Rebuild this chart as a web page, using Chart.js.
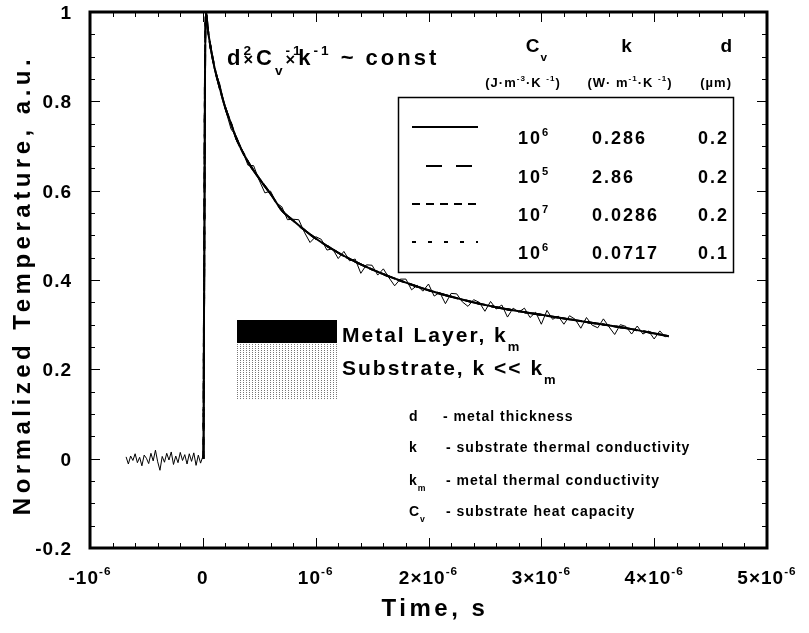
<!DOCTYPE html>
<html>
<head>
<meta charset="utf-8">
<script src="https://cdn.jsdelivr.net/npm/chart.js"></script>
<style>
  body { margin: 0; background: #fff; }
  canvas { display: block; }
</style>
</head>
<body>
<canvas id="tempChart" width="809" height="633"></canvas>
<script>
// Time in microseconds, temperature normalized to the peak
const expTime = [
  -0.68, -0.66, -0.64, -0.62, -0.60, -0.58, -0.56, -0.54, -0.52, -0.50,
  -0.48, -0.46, -0.44, -0.42, -0.40, -0.38, -0.36, -0.34, -0.32, -0.30,
  -0.28, -0.26, -0.24, -0.22, -0.20, -0.18, -0.16, -0.14, -0.12, -0.10,
  -0.08, -0.06, -0.04, -0.02, 0.00, 0.01, 0.025,
  0.05, 0.10, 0.15, 0.20, 0.25, 0.30, 0.35, 0.40, 0.45, 0.50,
  0.55, 0.60, 0.65, 0.70, 0.75, 0.80, 0.85, 0.90, 0.95, 1.00,
  1.05, 1.10, 1.15, 1.20, 1.25, 1.30, 1.35, 1.40, 1.45, 1.50,
  1.55, 1.60, 1.65, 1.70, 1.75, 1.80, 1.85, 1.90, 1.95, 2.00,
  2.05, 2.10, 2.15, 2.20, 2.25, 2.30, 2.35, 2.40, 2.45, 2.50,
  2.55, 2.60, 2.65, 2.70, 2.75, 2.80, 2.85, 2.90, 2.95, 3.00,
  3.05, 3.10, 3.15, 3.20, 3.25, 3.30, 3.35, 3.40, 3.45, 3.50,
  3.55, 3.60, 3.65, 3.70, 3.75, 3.80, 3.85, 3.90, 3.95, 4.00,
  4.05, 4.10
];
const expTemp = [
  0.004, -0.012, 0.006, -0.004, 0.011, -0.009, 0.003, -0.016, 0.008, 0.001,
  -0.011, 0.012, -0.005, 0.019, -0.007, -0.026, 0.005, -0.008, 0.012, -0.003,
  0.015, -0.013, 0.006, -0.009, 0.014, -0.004, 0.009, -0.012, 0.011, -0.006,
  0.013, -0.015, 0.008, -0.010, 0.005, 0.000, 1.000,
  0.954, 0.874, 0.839, 0.782, 0.738, 0.720, 0.690, 0.657, 0.656, 0.623,
  0.595, 0.599, 0.573, 0.564, 0.535, 0.536, 0.535, 0.507, 0.484, 0.497,
  0.491, 0.467, 0.470, 0.448, 0.464, 0.443, 0.447, 0.415, 0.434, 0.433,
  0.411, 0.425, 0.405, 0.387, 0.402, 0.402, 0.378, 0.388, 0.375, 0.391,
  0.364, 0.372, 0.347, 0.370, 0.369, 0.351, 0.341, 0.356, 0.350, 0.330,
  0.352, 0.335, 0.344, 0.317, 0.337, 0.328, 0.337, 0.316, 0.328, 0.301,
  0.332, 0.312, 0.319, 0.301, 0.320, 0.312, 0.292, 0.316, 0.299, 0.293,
  0.313, 0.295, 0.278, 0.300, 0.296, 0.279, 0.297, 0.279, 0.286, 0.268,
  0.286, 0.272
];

const modelTime = [0.005, 0.025, 0.05, 0.1, 0.15, 0.2, 0.25, 0.3, 0.4, 0.5, 0.6, 0.7, 0.8, 0.9, 1.0,
  1.2, 1.4, 1.6, 1.8, 2.0, 2.3, 2.6, 3.0, 3.4, 3.8, 4.13];
const modelTemp = [0.0, 1.0, 0.95, 0.88, 0.83, 0.785, 0.75, 0.715, 0.665, 0.627, 0.593, 0.556, 0.533, 0.512, 0.493,
  0.461, 0.435, 0.413, 0.394, 0.377, 0.356, 0.339, 0.322, 0.306, 0.29, 0.274];

const xTickValues = [-1, 0, 1, 2, 3, 4, 5];
const xTickLabels = ['-10|-6', '0', '10|-6', '2×10|-6', '3×10|-6', '4×10|-6', '5×10|-6'];
const yTickValues = [-0.2, 0, 0.2, 0.4, 0.6, 0.8, 1];
const yTickLabels = ['-0.2', '0', '0.2', '0.4', '0.6', '0.8', '1'];

// legend table: Cv exponent, k, d
const legendCv = ['6', '5', '7', '6'];
const legendK = ['0.286', '2.86', '0.0286', '0.0717'];
const legendD = ['0.2', '0.2', '0.2', '0.1'];
const lineDashes = [[], [16, 14], [8, 6], [4, 12]];

const FONT = '"Liberation Sans", Arial, sans-serif';

function pts(xs, ys) {
  return xs.map((t, i) => ({ x: t, y: ys[i] }));
}

// segs: [text, kind]  n normal, p sup, P sup (no advance), b sub, B sub (no advance), x small cross
function drawRich(ctx, segs, x, y, size, align, spacing) {
  const parts = segs.map(([t, k]) => {
    let fs = size, dy = 0, adv = true;
    if (k === 'p' || k === 'P') { fs = size * 0.62; dy = -size * 0.45; adv = k === 'p'; }
    if (k === 'b' || k === 'B') { fs = size * 0.62; dy = size * 0.45; adv = k === 'b'; }
    if (k === 'x') { fs = size * 0.75; dy = -size * 0.02; }
    return { t, fs, dy, adv };
  });
  ctx.letterSpacing = spacing + 'px';
  let w = 0;
  for (const p of parts) {
    ctx.font = `bold ${p.fs}px ${FONT}`;
    p.w = ctx.measureText(p.t).width;
    if (p.adv) w += p.w;
  }
  let cx = align === 'center' ? x - w / 2 : align === 'right' ? x - w : x;
  ctx.textAlign = 'left';
  ctx.textBaseline = 'alphabetic';
  for (const p of parts) {
    ctx.font = `bold ${p.fs}px ${FONT}`;
    ctx.fillText(p.t, cx, y + p.dy);
    if (p.adv) cx += p.w;
  }
  ctx.letterSpacing = '0px';
}

function stipple(ctx) {
  const c = document.createElement('canvas');
  c.width = 3; c.height = 2;
  const g = c.getContext('2d');
  g.fillStyle = '#fff';
  g.fillRect(0, 0, 3, 2);
  g.fillStyle = '#777';
  g.fillRect(0, 0, 1, 1);
  return ctx.createPattern(c, 'repeat');
}

const decor = {
  id: 'decor',
  afterDraw(chart) {
    const { ctx, chartArea: a, scales: { x, y } } = chart;
    ctx.save();
    ctx.fillStyle = '#000';
    ctx.strokeStyle = '#000';

    // inward ticks on all four sides
    ctx.lineWidth = 1;
    ctx.beginPath();
    for (let i = 0; i <= 30; i++) {
      const px = Math.round(x.getPixelForValue(-1 + i * 0.2)) + 0.5;
      const len = i % 5 === 0 ? 10 : 5;
      ctx.moveTo(px, a.bottom); ctx.lineTo(px, a.bottom - len);
      ctx.moveTo(px, a.top); ctx.lineTo(px, a.top + len);
    }
    for (let i = 0; i <= 24; i++) {
      const py = Math.round(y.getPixelForValue(-0.2 + i * 0.05)) + 0.5;
      const len = i % 4 === 0 ? 10 : 5;
      ctx.moveTo(a.left, py); ctx.lineTo(a.left + len, py);
      ctx.moveTo(a.right, py); ctx.lineTo(a.right - len, py);
    }
    ctx.stroke();

    // frame
    ctx.lineWidth = 3;
    ctx.strokeRect(a.left, a.top, a.right - a.left, a.bottom - a.top);

    // tick labels
    xTickValues.forEach((v, i) => {
      const [base, exp] = xTickLabels[i].split('|');
      const segs = exp ? [[base, 'n'], [exp, 'p']] : [[base, 'n']];
      drawRich(ctx, segs, x.getPixelForValue(v), 584, 19, 'center', 1);
    });
    yTickValues.forEach((v, i) => {
      drawRich(ctx, [[yTickLabels[i], 'n']], 72, y.getPixelForValue(v) + 7, 19, 'right', 1);
    });

    // axis titles
    drawRich(ctx, [['Time, s', 'n']], 435, 616, 24, 'center', 3.5);
    ctx.save();
    ctx.translate(30, 285);
    ctx.rotate(-Math.PI / 2);
    drawRich(ctx, [['Normalized Temperature, a.u.', 'n']], 0, 0, 24, 'center', 4.5);
    ctx.restore();

    // scaling relation
    drawRich(ctx, [['d', 'n'], ['2', 'P'], ['×', 'x'], ['C', 'n'], ['v', 'b'], ['-1', 'P'], ['×', 'x'],
      ['k', 'n'], ['-1', 'p'], [' ~ const', 'n']], 227, 65, 22, 'left', 3);

    // table headers
    drawRich(ctx, [['C', 'n'], ['v', 'b']], 537, 52, 19, 'center', 1);
    drawRich(ctx, [['k', 'n']], 627, 52, 19, 'center', 1);
    drawRich(ctx, [['d', 'n']], 733, 52, 19, 'right', 1);
    drawRich(ctx, [['(J·m', 'n'], ['-3', 'p'], ['·K ', 'n'], ['-1', 'p'], [')', 'n']], 523, 87, 13, 'center', 1);
    drawRich(ctx, [['(W· m', 'n'], ['-1', 'p'], ['·K ', 'n'], ['-1', 'p'], [')', 'n']], 630, 87, 13, 'center', 1);
    drawRich(ctx, [['(µm)', 'n']], 732, 87, 13, 'right', 1);

    // legend box
    ctx.lineWidth = 1.5;
    ctx.strokeRect(398.5, 97.5, 335, 175);
    const rowY = [127, 166, 204, 242];
    chart.data.datasets.slice(1).forEach((ds, i) => {
      ctx.save();
      ctx.lineWidth = 2;
      ctx.setLineDash(ds.borderDash);
      ctx.lineDashOffset = i === 1 ? -14 : 0;
      ctx.beginPath();
      ctx.moveTo(412, rowY[i]);
      ctx.lineTo(478, rowY[i]);
      ctx.stroke();
      ctx.restore();
      const base = rowY[i] + 17;
      drawRich(ctx, [['10', 'n'], [legendCv[i], 'p']], 534, base, 18, 'center', 2);
      drawRich(ctx, [[legendK[i], 'n']], 592, base, 18, 'left', 2);
      drawRich(ctx, [[legendD[i], 'n']], 729, base, 18, 'right', 2);
    });

    // layer sketch
    ctx.fillRect(237, 320, 100, 23);
    ctx.fillStyle = stipple(ctx);
    ctx.fillRect(237, 343, 100, 57);
    ctx.fillStyle = '#000';
    drawRich(ctx, [['Metal Layer, k', 'n'], ['m', 'b']], 342, 342, 21, 'left', 2);
    drawRich(ctx, [['Substrate, k << k', 'n'], ['m', 'b']], 342, 375, 21, 'left', 2);

    // symbol definitions
    const defs = [
      [[['d', 'n']], '- metal thickness', 421],
      [[['k', 'n']], '- substrate thermal conductivity', 452],
      [[['k', 'n'], ['m', 'b']], '- metal thermal conductivity', 485],
      [[['C', 'n'], ['v', 'b']], '- substrate heat capacity', 516]
    ];
    defs.forEach(([sym, text, by], i) => {
      drawRich(ctx, sym, 409, by, 14, 'left', 1);
      drawRich(ctx, [[text, 'n']], i === 0 ? 443 : 446, by, 14, 'left', 1);
    });
    ctx.restore();
  }
};

const datasets = [
  {
    label: 'Experiment',
    data: pts(expTime, expTemp),
    borderColor: '#000',
    borderWidth: 1,
    pointRadius: 0,
    tension: 0
  }
];
lineDashes.forEach((dash, i) => {
  datasets.push({
    label: 'Model ' + (i + 1),
    data: pts(modelTime, modelTemp),
    borderColor: '#000',
    borderWidth: 2,
    borderDash: dash,
    pointRadius: 0,
    cubicInterpolationMode: 'monotone'
  });
});

new Chart(document.getElementById('tempChart'), {
  type: 'line',
  data: { datasets },
  options: {
    responsive: false,
    animation: false,
    devicePixelRatio: 1,
    layout: { padding: { left: 90, right: 42, top: 12, bottom: 85 } },
    plugins: { legend: { display: false }, tooltip: { enabled: false } },
    scales: {
      x: { type: 'linear', min: -1, max: 5, display: false },
      y: { type: 'linear', min: -0.2, max: 1, display: false }
    }
  },
  plugins: [decor]
});
</script>
</body>
</html>
